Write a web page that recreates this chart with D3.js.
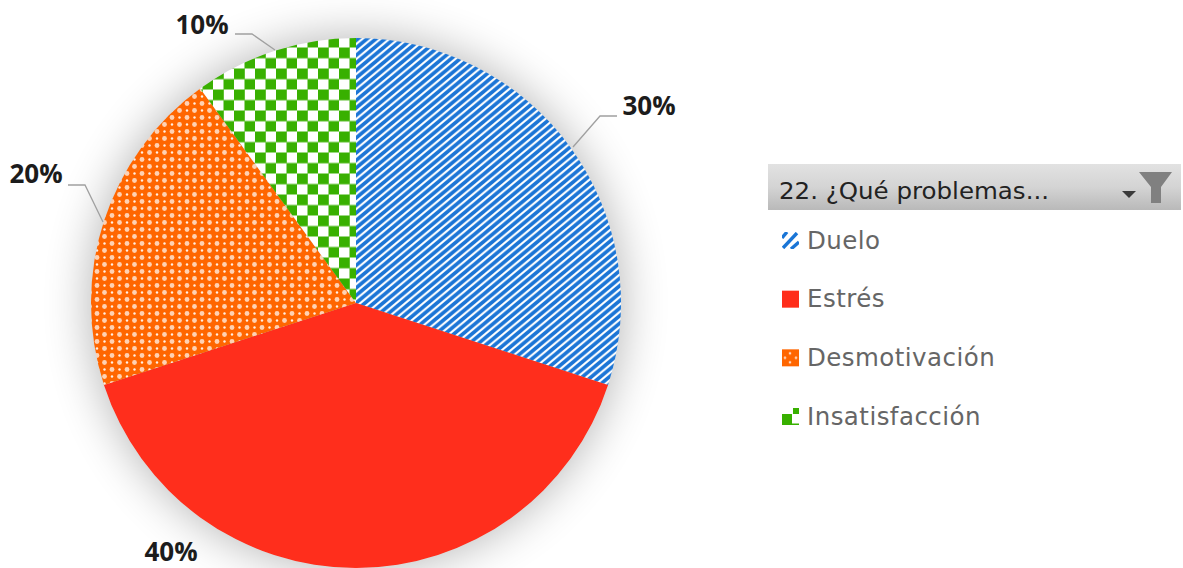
<!DOCTYPE html>
<html><head><meta charset="utf-8">
<script src="https://cdn.jsdelivr.net/npm/d3@7"></script>
<style>html,body{margin:0;padding:0;background:#fff}svg{display:block}</style>
</head><body><div id="c"></div>
<script>
const categories = ["Duelo","Estrés","Desmotivación","Insatisfacción"];
const values = [30,40,20,10];
const labels = ["30%","40%","20%","10%"];
const colors = ["#1a75d6","#ff2d1a","#ff6600","#38b000"];
const fills = ["url(#pBlue)","#ff2d1a","url(#pOrange)","url(#pGreen)"];
const swatchFills = ["url(#sBlue)","#ff2d1a","url(#sOrange)","url(#sGreen)"];
const slicerTitle = "22. ¿Qué problemas...";

const W=1183,H=568,cx=356,cy=303,R=265;
const svg=d3.select("#c").append("svg").attr("width",W).attr("height",H);
const defs=svg.append("defs");

const pb=defs.append("pattern").attr("id","pBlue").attr("width",9).attr("height",7.5).attr("patternUnits","userSpaceOnUse");
pb.append("rect").attr("width",9).attr("height",7.5).attr("fill","#fff");
pb.append("path").attr("d","M-9,7.5L9,-7.5M-9,15L18,-7.5M0,15L18,0").attr("stroke",colors[0]).attr("stroke-width",3.7);

const po=defs.append("pattern").attr("id","pOrange").attr("width",15).attr("height",14).attr("patternUnits","userSpaceOnUse");
po.append("rect").attr("width",15).attr("height",14).attr("fill",colors[2]);
[[3.5,3.5,2.4,.7],[11,10.5,2.4,.7],[11,3.5,1.2,.9],[3.5,10.5,1.2,.9]].forEach(d=>po.append("circle").attr("cx",d[0]).attr("cy",d[1]).attr("r",d[2]).attr("fill","#fff").attr("opacity",d[3]));

const pg=defs.append("pattern").attr("id","pGreen").attr("width",21).attr("height",21).attr("patternUnits","userSpaceOnUse").attr("x",340-21).attr("y",38.5-21);
pg.append("rect").attr("width",21).attr("height",21).attr("fill","#fff");
pg.append("rect").attr("width",10.8).attr("height",10.8).attr("fill",colors[3]);
pg.append("rect").attr("x",10.5).attr("y",10.5).attr("width",10.8).attr("height",10.8).attr("fill",colors[3]);

// legend swatch patterns
const sb=defs.append("pattern").attr("id","sBlue").attr("width",17).attr("height",17).attr("y",-8).attr("patternUnits","userSpaceOnUse");
sb.append("rect").attr("width",17).attr("height",17).attr("fill","#fff");
sb.append("path").attr("d","M0,6L5,0M1,16L15,1M9,17L17,10").attr("stroke",colors[0]).attr("stroke-width",3.4);
const so=defs.append("pattern").attr("id","sOrange").attr("width",17).attr("height",17).attr("y",-8).attr("patternUnits","userSpaceOnUse");
so.append("rect").attr("width",17).attr("height",17).attr("fill",colors[2]);
[[8,4],[3,8.5],[14,8.5],[8,13]].forEach(d=>so.append("circle").attr("cx",d[0]).attr("cy",d[1]).attr("r",1.3).attr("fill","#ffd9bf"));
const sg=defs.append("pattern").attr("id","sGreen").attr("width",17).attr("height",17).attr("y",-8).attr("patternUnits","userSpaceOnUse");
sg.append("rect").attr("width",17).attr("height",17).attr("fill","#fff");
sg.append("path").attr("d","M11,0H17V6H11ZM0,6H10V17H0ZM10,15.5H17V17H10Z").attr("fill",colors[3]);

const grad=defs.append("linearGradient").attr("id","hdr").attr("x1",0).attr("x2",0).attr("y1",0).attr("y2",1);
grad.append("stop").attr("offset",0).attr("stop-color","#e2e2e2");
grad.append("stop").attr("offset",.5).attr("stop-color","#d4d4d4");
grad.append("stop").attr("offset",1).attr("stop-color","#b9b9b9");

const blur=defs.append("filter").attr("id","glow").attr("x","-30%").attr("y","-30%").attr("width","160%").attr("height","160%");
blur.append("feGaussianBlur").attr("stdDeviation",24);
const soft=defs.append("filter").attr("id","soft").attr("x","-5%").attr("y","-5%").attr("width","110%").attr("height","110%");
soft.append("feGaussianBlur").attr("stdDeviation",.6);
const softText=defs.append("filter").attr("id","softText").attr("x","-5%").attr("y","-20%").attr("width","110%").attr("height","140%");
softText.append("feGaussianBlur").attr("stdDeviation",.4);

const pie=d3.pie().sort(null).value(d=>d)(values);
const arc=d3.arc().innerRadius(0).outerRadius(R);

svg.append("circle").attr("cx",cx).attr("cy",cy).attr("r",R).attr("fill","#000").attr("opacity",.3).attr("filter","url(#glow)");

const g=svg.append("g").attr("transform",`translate(${cx},${cy})`).attr("filter","url(#soft)");
g.selectAll("path").data(pie).join("path").attr("d",arc).attr("fill",(d,i)=>fills[i]);

const labelPos=[{x:649,y:106},{x:171,y:552},{x:36,y:174},{x:202,y:25}];
const leaders=[[[573,147],[600,116],[617,116]],null,[[103,222],[85,185],[68,185]],[[275,50],[252,34],[235,34]]];
svg.selectAll("path.leader").data(leaders.filter(Boolean)).join("path").attr("class","leader")
  .attr("d",d3.line()).attr("fill","none").attr("stroke","#a0a0a0").attr("stroke-width",1.3);
svg.selectAll("text.pct").data(labels).join("text").attr("class","pct")
  .attr("x",(d,i)=>labelPos[i].x).attr("y",(d,i)=>labelPos[i].y).attr("dy","0.36em")
  .attr("text-anchor","middle").attr("font-family","'Open Sans',sans-serif").attr("font-weight",700)
  .attr("font-size",26).attr("fill","#1c1c1c").text(d=>d);

// slicer
const sl=svg.append("g");
sl.append("rect").attr("x",768).attr("y",164).attr("width",413).attr("height",46).attr("fill","url(#hdr)");
sl.append("text").attr("x",779).attr("y",199).attr("font-family","'DejaVu Sans',sans-serif").attr("font-size",23)
  .attr("textLength",270).attr("lengthAdjust","spacingAndGlyphs").attr("fill","#222").text(slicerTitle);
sl.append("path").attr("d","M1122,191h14l-7,7z").attr("fill","#3a3a3a");
sl.append("path").attr("d","M1139,172h33l-11,15v16h-10v-16z").attr("fill","#808080");

const y=d3.scalePoint().domain(categories).range([240,416]);
const it=svg.selectAll("g.item").data(categories).join("g").attr("class","item").attr("transform",d=>`translate(782,${y(d)})`);
it.append("rect").attr("y",-8).attr("width",17).attr("height",17).attr("fill",(d,i)=>swatchFills[i]);
it.append("text").attr("x",25).attr("dy","0.36em").attr("font-family","'DejaVu Sans',sans-serif").attr("font-size",24.5)
  .attr("letter-spacing",.45).attr("fill","#666").text(d=>d);
</script></body></html>
